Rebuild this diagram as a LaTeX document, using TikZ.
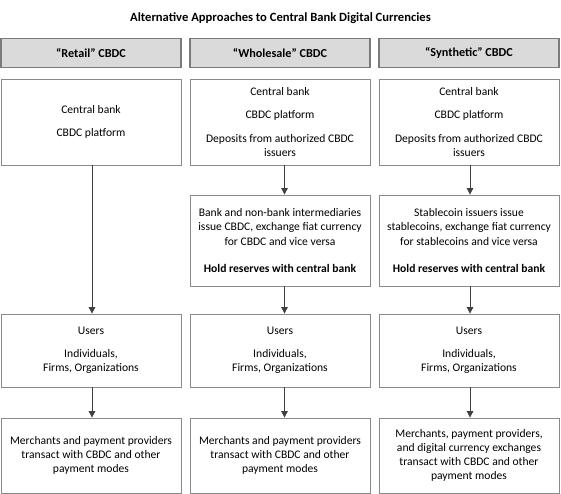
\documentclass[tikz,border=0pt]{standalone}
\usepackage{fontspec}
\setmainfont{Carlito}
\usetikzlibrary{arrows.meta}
\definecolor{hdrfill}{HTML}{DADADA}
\definecolor{hdrline}{HTML}{7A7A7A}
\definecolor{boxline}{HTML}{8A8A8A}
\definecolor{arrowc}{HTML}{404040}
\begin{document}
\begin{tikzpicture}[x=1pt,y=-1pt,
  every node/.style={font=\fontsize{11.6}{14.2}\selectfont},
  hdr/.style={draw=hdrline, line width=1.2pt, fill=hdrfill, minimum width=180pt, minimum height=29pt, inner sep=0pt, font=\fontsize{12.2}{14}\selectfont\bfseries},
  box/.style={draw=boxline, line width=0.8pt, minimum width=180pt, inner sep=0pt, align=center},
  arr/.style={draw=arrowc, line width=0.8pt, -{Triangle[width=6.5pt,length=6.5pt]}}]
\useasboundingbox (0,0) rectangle (561,494);
\node[font=\fontsize{12.6}{14}\selectfont\bfseries] (title) at (280.5,18) {Alternative Approaches to Central Bank Digital Currencies};
% headers
\node[hdr] (h1) at (91,53) {“Retail” CBDC};
\node[hdr] (h2) at (280,53) {“Wholesale” CBDC};
\node[hdr] (h3) at (469,53) {“Synthetic” CBDC};
% row 1
\node[box, minimum height=86pt] (a1) at (91,122) {Central bank\\[8pt]CBDC platform};
\node[box, minimum height=86pt] (a2) at (280,122) {Central bank\\[9pt]CBDC platform\\[9pt]Deposits from authorized CBDC\\issuers};
\node[box, minimum height=86pt] (a3) at (469,122) {Central bank\\[9pt]CBDC platform\\[9pt]Deposits from authorized CBDC\\issuers};
% row 2
\node[box, minimum height=91pt] (b2) at (280,240.5) {Bank and non-bank intermediaries\\issue CBDC, exchange fiat currency\\for CBDC and vice versa\\[13pt]\textbf{Hold reserves with central bank}};
\node[box, minimum height=91pt] (b3) at (469,240.5) {Stablecoin issuers issue\\stablecoins, exchange fiat currency\\for stablecoins and vice versa\\[13pt]\textbf{Hold reserves with central bank}};
% users
\node[box, minimum height=73pt] (u1) at (91,350.5) {Users\\[9pt]Individuals,\\Firms, Organizations};
\node[box, minimum height=73pt] (u2) at (280,350.5) {Users\\[9pt]Individuals,\\Firms, Organizations};
\node[box, minimum height=73pt] (u3) at (469,350.5) {Users\\[9pt]Individuals,\\Firms, Organizations};
% bottom
\node[box, minimum height=75pt] (m1) at (91,455.5) {Merchants and payment providers\\transact with CBDC and other\\payment modes};
\node[box, minimum height=75pt] (m2) at (280,455.5) {Merchants and payment providers\\transact with CBDC and other\\payment modes};
\node[box, minimum height=75pt] (m3) at (469,455.5) {Merchants, payment providers,\\and digital currency exchanges\\transact with CBDC and other\\payment modes};
% arrows
\draw[arr] ([xshift=1pt]a1.south) -- ([xshift=1pt]u1.north);
\draw[arr] ([xshift=4.5pt]a2.south) -- ([xshift=4.5pt]b2.north);
\draw[arr] ([xshift=1pt]a3.south) -- ([xshift=1pt]b3.north);
\draw[arr] ([xshift=4.5pt]b2.south) -- ([xshift=4.5pt]u2.north);
\draw[arr] ([xshift=1pt]b3.south) -- ([xshift=1pt]u3.north);
\draw[arr] ([xshift=1pt]u1.south) -- ([xshift=1pt]m1.north);
\draw[arr] ([xshift=4.5pt]u2.south) -- ([xshift=4.5pt]m2.north);
\draw[arr] ([xshift=1pt]u3.south) -- ([xshift=1pt]m3.north);
\end{tikzpicture}
\end{document}
